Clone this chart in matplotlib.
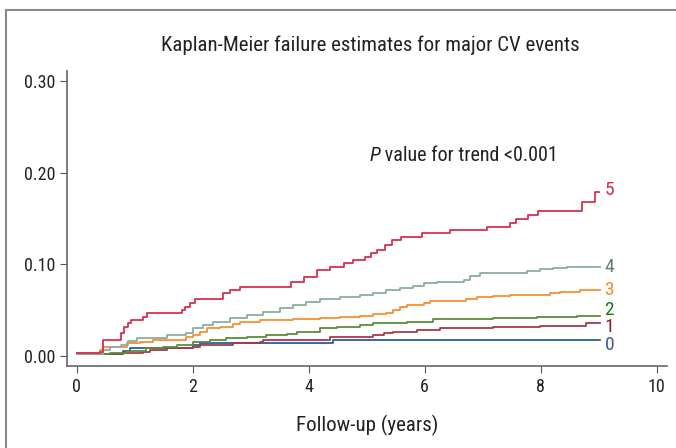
import matplotlib
matplotlib.use('Agg')
import matplotlib.pyplot as plt
from matplotlib.patches import Rectangle

plt.rcParams['font.family'] = ['Roboto Condensed', 'Liberation Sans Narrow', 'Roboto', 'DejaVu Sans']

# --- Kaplan-Meier step data (years, cumulative failure) --- #
t5 = [0, 0.40, 0.45, 0.77, 0.82, 0.88, 0.94, 1.14, 1.21, 1.81, 1.86, 1.95, 2.04, 2.52, 2.64, 2.81,
      3.70, 3.91, 4.14, 4.37, 4.60, 4.77, 4.97, 5.08, 5.17, 5.31, 5.43, 5.60, 5.95, 6.44, 7.07,
      7.47, 7.58, 7.79, 7.96, 8.71, 8.94, 9.0]
y5 = [0.003, 0.0047, 0.0174, 0.0247, 0.032, 0.036, 0.039, 0.0429, 0.0465, 0.050, 0.0538, 0.0574,
      0.0618, 0.0683, 0.072, 0.0756, 0.0811, 0.0865, 0.0938, 0.0974, 0.1018, 0.1047, 0.1083,
      0.112, 0.1156, 0.121, 0.1265, 0.130, 0.1338, 0.1374, 0.141, 0.1447, 0.1494, 0.1538,
      0.1585, 0.1683, 0.1792, 0.1792]

t4 = [0, 0.45, 0.57, 0.77, 0.88, 1.03, 1.55, 1.89, 2.01, 2.18, 2.35, 2.64, 2.93, 3.21, 3.50, 3.73,
      3.96, 4.19, 4.54, 4.88, 5.11, 5.34, 5.57, 5.80, 5.98, 6.21, 6.67, 6.78, 6.95, 7.41, 7.76,
      7.99, 8.22, 8.45, 9.02]
y4 = [0.002, 0.006, 0.0094, 0.012, 0.016, 0.0193, 0.0229, 0.0247, 0.0302, 0.0338, 0.0374, 0.041,
      0.0447, 0.048, 0.052, 0.0556, 0.0592, 0.0618, 0.064, 0.0665, 0.0683, 0.072, 0.0738, 0.0763,
      0.0793, 0.0811, 0.0829, 0.0873, 0.0902, 0.0909, 0.093, 0.0945, 0.0956, 0.0974, 0.0974]

t3 = [0, 0.40, 0.45, 0.86, 1.09, 1.32, 1.89, 2.01, 2.12, 2.24, 2.47, 2.70, 2.81, 3.16, 3.73, 4.19,
      4.54, 4.88, 5.11, 5.34, 5.46, 5.57, 5.69, 5.98, 6.09, 6.72, 6.90, 7.18, 7.47, 8.16, 8.33,
      8.68, 9.02]
y3 = [0.003, 0.0065, 0.0094, 0.0138, 0.0156, 0.0174, 0.0203, 0.0229, 0.0265, 0.0302, 0.032, 0.0349,
      0.0374, 0.039, 0.040, 0.041, 0.0429, 0.044, 0.0454, 0.0465, 0.050, 0.053, 0.0556, 0.0574,
      0.060, 0.0618, 0.064, 0.0658, 0.0665, 0.0683, 0.0702, 0.072, 0.072]

t2 = [0, 0.57, 0.74, 0.86, 1.20, 1.49, 1.72, 2.01, 2.30, 2.58, 2.93, 3.27, 3.62, 3.79, 4.19, 4.48,
      4.88, 5.11, 5.69, 6.15, 7.18, 7.93, 8.62, 9.02]
y2 = [0.002, 0.0029, 0.0036, 0.0058, 0.0084, 0.0102, 0.012, 0.0156, 0.0174, 0.0193, 0.021, 0.0229,
      0.024, 0.0265, 0.0302, 0.032, 0.0338, 0.0356, 0.0374, 0.040, 0.041, 0.0429, 0.044, 0.044]

t1 = [0, 0.80, 1.14, 1.26, 1.55, 2.01, 2.12, 2.70, 3.16, 3.21, 4.37, 4.54, 5.11, 5.29, 5.46, 5.86,
      6.26, 7.18, 7.99, 8.79, 9.02]
y1 = [0.002, 0.0029, 0.0047, 0.0065, 0.0084, 0.0094, 0.012, 0.0138, 0.0156, 0.0174, 0.0203, 0.021,
      0.0229, 0.0247, 0.0265, 0.0284, 0.0302, 0.032, 0.033, 0.0356, 0.0356]

t0 = [0, 0.80, 0.91, 2.01, 2.12, 4.42, 9.02]
y0 = [0.002, 0.0058, 0.0084, 0.012, 0.0138, 0.0174, 0.0174]

groups = ['0', '1', '2', '3', '4', '5']
label_y = [0.012, 0.032, 0.050, 0.072, 0.097, 0.181]
line_colors = ['#2e5c96', '#a8384a', '#5a8c3c', '#f59034', '#8aaea2', '#d8304e']
text_colors = ['#3a5c98', '#8c1c2c', '#127a12', '#f58a2a', '#5e7c74', '#d02c4c']


def main():
	fig = plt.figure(figsize=(6.76, 4.48), dpi=100)
	ax = fig.add_axes([0.0991, 0.183, 0.8876, 0.6585])

	# outer frame of the panel
	fig.patches.append(Rectangle((6 / 676, -0.05), 1.0, 1.05 - 10 / 448, transform=fig.transFigure,
	                             fill=False, edgecolor='#8a8a8a', linewidth=1.5))

	series = [(t0, y0), (t1, y1), (t2, y2), (t3, y3), (t4, y4), (t5, y5)]
	for (t, y), c in zip(series, line_colors):
		ax.step(t, y, where='post', color=c, linewidth=1.3)

	for g, ly, c in zip(groups, label_y, text_colors):
		ax.text(9.1, ly, g, color=c, fontsize=14, va='center', ha='left')

	# --- P value note: italic P, then the rest placed right after it --- #
	p = ax.text(5.05, 0.213, 'P', fontsize=14.5, style='italic', va='baseline', ha='left', color='#222222')
	ax.annotate(' value for trend <0.001', xy=(1, 0), xycoords=p, fontsize=14.5,
	            va='bottom', ha='left', color='#222222')

	ax.set_xlim(-0.17, 10.18)
	ax.set_ylim(-0.011, 0.311)
	ax.set_xticks([0, 2, 4, 6, 8, 10])
	ax.set_yticks([0.0, 0.1, 0.2, 0.3])
	ax.set_yticklabels(['0.00', '0.10', '0.20', '0.30'])
	ax.tick_params(labelsize=13, color='#555555', length=5, labelcolor='#222222')

	for s in ['top', 'right']:
		ax.spines[s].set_visible(False)
	for s in ['left', 'bottom']:
		ax.spines[s].set_color('#666666')
		ax.spines[s].set_linewidth(1.2)

	ax.set_xlabel('Follow-up (years)', fontsize=15, labelpad=14, color='#222222')
	fig.text(0.548, 0.9, 'Kaplan-Meier failure estimates for major CV events', fontsize=15,
	         ha='center', va='center', color='#222222')

	fig.savefig('out.png', dpi=100)


if __name__ == "__main__":
	main()
